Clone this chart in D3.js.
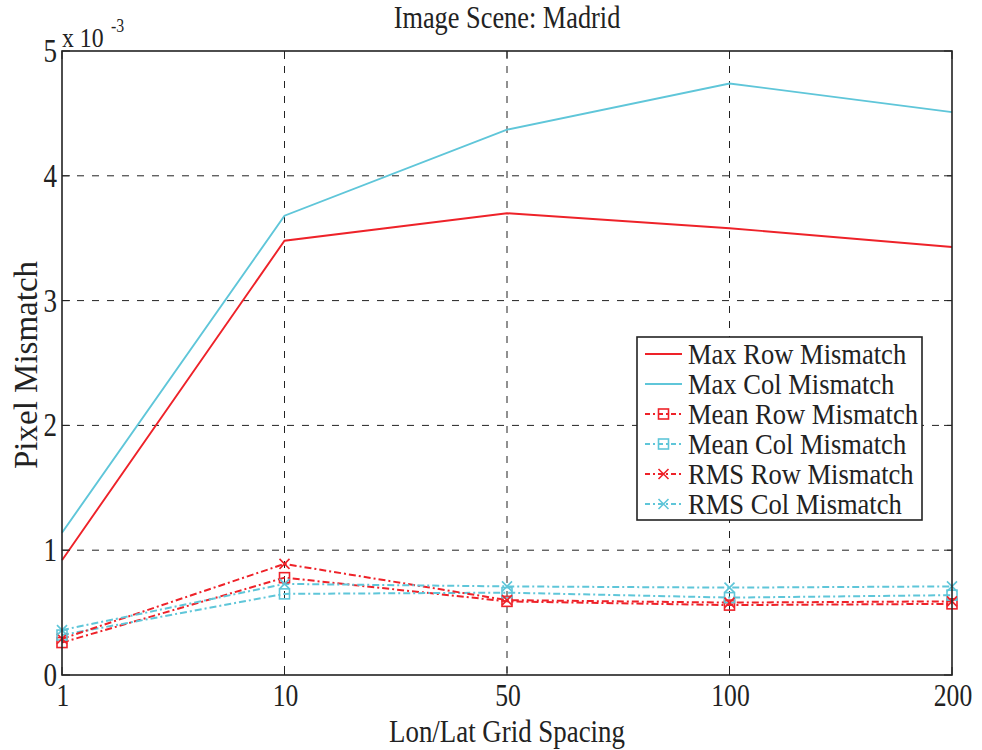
<!DOCTYPE html>
<html>
<head>
<meta charset="utf-8">
<script src="https://cdn.jsdelivr.net/npm/d3@7/dist/d3.min.js"></script>
<style>
  html, body { margin: 0; padding: 0; background: #fff; }
  svg { display: block; }
  text { font-family: "Liberation Serif", "Times New Roman", serif; fill: #222; }
</style>
</head>
<body>
<svg id="chart" width="982" height="750"></svg>
<script>
// Grid spacing categories (evenly spaced on the x axis)
const categories = ["1", "10", "50", "100", "200"];

// Pixel mismatch values, in units of 1e-3
const maxRow   = [0.92, 3.48, 3.70, 3.58, 3.43];
const maxCol   = [1.14, 3.68, 4.37, 4.74, 4.51];
const meanRow  = [0.26, 0.78, 0.59, 0.56, 0.57];
const meanCol  = [0.32, 0.65, 0.66, 0.62, 0.64];
const rmsRow   = [0.29, 0.89, 0.60, 0.58, 0.59];
const rmsCol   = [0.36, 0.73, 0.71, 0.70, 0.71];

const yTicks = [0, 1, 2, 3, 4, 5];

const RED = "#ee2229";
const CYAN = "#5fc6d9";

const series = [
  { name: "Max Row Mismatch",  values: maxRow,  color: RED,  dash: null,        marker: null },
  { name: "Max Col Mismatch",  values: maxCol,  color: CYAN, dash: null,        marker: null },
  { name: "Mean Row Mismatch", values: meanRow, color: RED,  dash: "7,3,2,3",   marker: "square" },
  { name: "Mean Col Mismatch", values: meanCol, color: CYAN, dash: "7,3,2,3",   marker: "square" },
  { name: "RMS Row Mismatch",  values: rmsRow,  color: RED,  dash: "7,3,2,3",   marker: "x" },
  { name: "RMS Col Mismatch",  values: rmsCol,  color: CYAN, dash: "7,3,2,3",   marker: "x" }
];

const svg = d3.select("#chart");
const pLeft = 62, pRight = 952, pTop = 51, pBottom = 675;

const x = d3.scalePoint().domain(categories).range([pLeft, pRight]);
const y = d3.scaleLinear().domain([0, 5]).range([pBottom, pTop]);

// text helper with horizontal condensing
function label(g, txt, px, py, size, anchor, sx, rotate) {
  return g.append("text")
    .attr("transform", `translate(${px},${py})` + (rotate ? ` rotate(${rotate})` : "") + ` scale(${sx},1)`)
    .attr("text-anchor", anchor)
    .style("font-size", size + "px")
    .text(txt);
}

// grid
const grid = svg.append("g");
grid.selectAll("line.gx").data(categories.slice(1, -1)).join("line")
  .attr("x1", d => x(d)).attr("x2", d => x(d))
  .attr("y1", pTop).attr("y2", pBottom)
  .attr("stroke", "#222").attr("stroke-width", 1).attr("stroke-dasharray", "7,8");
grid.selectAll("line.gy").data(yTicks.slice(1, -1)).join("line")
  .attr("x1", pLeft).attr("x2", pRight)
  .attr("y1", d => y(d)).attr("y2", d => y(d))
  .attr("stroke", "#222").attr("stroke-width", 1).attr("stroke-dasharray", "7,8");

// lines
const line = d3.line().x((d, i) => x(categories[i])).y(d => y(d));
const plot = svg.append("g");
series.forEach(s => {
  plot.append("path")
    .attr("d", line(s.values))
    .attr("fill", "none")
    .attr("stroke", s.color)
    .attr("stroke-width", s.dash ? 2 : 1.9)
    .attr("stroke-dasharray", s.dash);
});

function drawMarker(g, type, cx, cy, color) {
  if (type === "square") {
    g.append("rect").attr("x", cx - 5).attr("y", cy - 5).attr("width", 10).attr("height", 10)
      .attr("fill", "none").attr("stroke", color).attr("stroke-width", 1.6);
  } else if (type === "x") {
    const r = 5;
    g.append("path").attr("d", `M${cx - r},${cy - r}L${cx + r},${cy + r}M${cx - r},${cy + r}L${cx + r},${cy - r}`)
      .attr("stroke", color).attr("stroke-width", 1.6).attr("fill", "none");
  }
}
series.forEach(s => {
  if (!s.marker) return;
  s.values.forEach((v, i) => drawMarker(plot, s.marker, x(categories[i]), y(v), s.color));
});

// axes box
const axes = svg.append("g");
axes.append("rect").attr("x", pLeft).attr("y", pTop).attr("width", pRight - pLeft).attr("height", pBottom - pTop)
  .attr("fill", "none").attr("stroke", "#222").attr("stroke-width", 1.6);

// tick marks (inward, both sides)
yTicks.forEach(t => {
  axes.append("line").attr("x1", pLeft).attr("x2", pLeft + 8).attr("y1", y(t)).attr("y2", y(t)).attr("stroke", "#222");
  axes.append("line").attr("x1", pRight).attr("x2", pRight - 8).attr("y1", y(t)).attr("y2", y(t)).attr("stroke", "#222");
});
categories.forEach(c => {
  axes.append("line").attr("x1", x(c)).attr("x2", x(c)).attr("y1", pBottom).attr("y2", pBottom - 8).attr("stroke", "#222");
  axes.append("line").attr("x1", x(c)).attr("x2", x(c)).attr("y1", pTop).attr("y2", pTop + 8).attr("stroke", "#222");
});

// tick labels
yTicks.forEach(t => label(axes, String(t), pLeft - 5, y(t) + 11, 33, "end", 0.82));
categories.forEach(c => label(axes, c, x(c) + 1, pBottom + 31, 32, "middle", 0.8));

// exponent marker
label(axes, "x 10", pLeft, pTop - 4, 27, "start", 0.88);
label(axes, "-3", pLeft + 49, pTop - 19, 18, "start", 0.88);

// titles
label(svg, "Image Scene: Madrid", (pLeft + pRight) / 2, 28, 31, "middle", 0.85);
label(svg, "Lon/Lat Grid Spacing", (pLeft + pRight) / 2, 742, 32, "middle", 0.84);
label(svg, "Pixel Mismatch", 37, (pTop + pBottom) / 2 + 2, 33, "middle", 1.0, -90);

// legend
const lg = svg.append("g");
const lx = 637, ly = 337, lw = 285, lh = 183;
lg.append("rect").attr("x", lx).attr("y", ly).attr("width", lw).attr("height", lh)
  .attr("fill", "#fff").attr("stroke", "#222").attr("stroke-width", 1.6);
series.forEach((s, i) => {
  const cy = 354 + i * 30;
  lg.append("line").attr("x1", 645).attr("x2", 682).attr("y1", cy).attr("y2", cy)
    .attr("stroke", s.color).attr("stroke-width", s.dash ? 2 : 1.9)
    .attr("stroke-dasharray", s.dash ? "5,3,2,3" : null);
  if (s.marker) drawMarker(lg, s.marker, 663.5, cy, s.color);
  label(lg, s.name, 688, cy + 10, 30, "start", 0.885);
});
</script>
</body>
</html>
